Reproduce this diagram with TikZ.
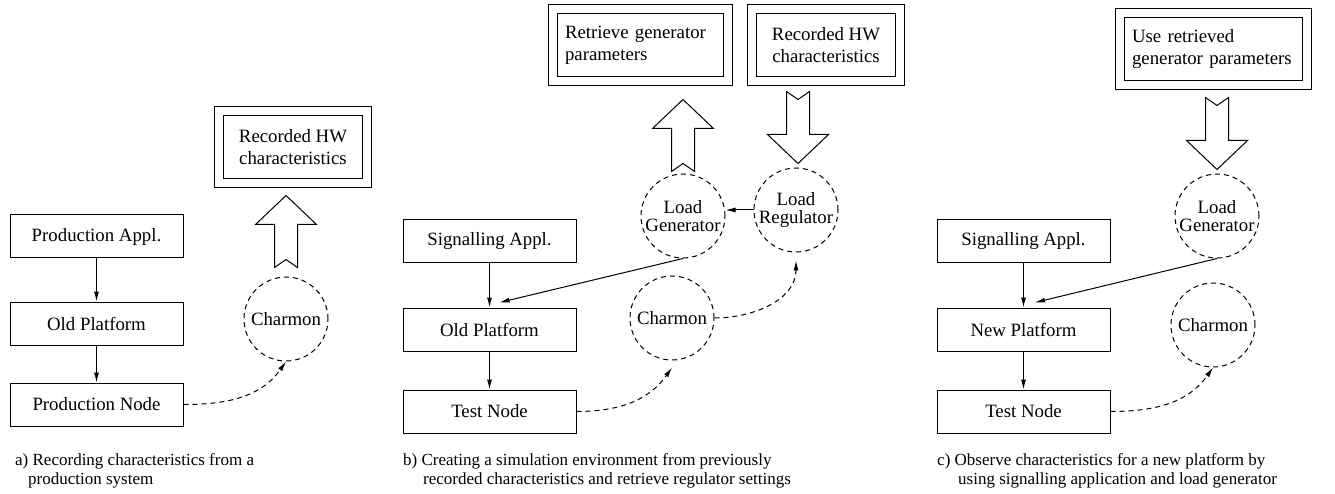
\documentclass[tikz,border=0pt]{standalone}
\usepackage{fontspec}
\setmainfont{Liberation Serif}
\usetikzlibrary{positioning,arrows.meta}

\begin{document}
\begin{tikzpicture}[
    x=1pt, y=1pt,
    font=\fontsize{18.8}{22}\selectfont,
    node distance=43pt,
    block/.style={rectangle, draw, line width=1pt, minimum width=173pt, minimum height=43pt, inner sep=0pt},
    proc/.style={circle, draw, line width=1pt, dash pattern=on 5pt off 4pt, minimum size=84pt, inner sep=0pt, align=center, font=\fontsize{18.8}{18}\selectfont},
    store/.style={rectangle, draw, double, double distance=8pt, line width=1pt, minimum height=72pt, inner sep=0pt},
    caption/.style={anchor=north west, align=left, inner sep=0pt, font=\fontsize{17}{19}\selectfont},
    arrow/.style={-{Latex[length=10pt,width=5pt]}, line width=1pt},
    trace/.style={arrow, dash pattern=on 5pt off 4pt},
    fatarrow/.pic={
        \draw[line width=1pt, fill=white] (-11.5,0) -- (0,8) -- (11.5,0) -- (11.5,43) -- (30.5,43)
            -- (0,72) -- (-30.5,43) -- (-11.5,43) -- cycle;
    }
]
\useasboundingbox (0,0) rectangle (1335,-494);

% a) recording on the production system
\node[block] (applA) at (96.5,-236.5) {Production Appl.};
\node[block, below=of applA] (platA) {Old Platform};
\node[block, below=37pt of platA] (nodeA) {Production Node};
\node[proc] (charA) at (286,-319) {Charmon};
\node[store, minimum width=148pt, align=center] (recA) at (293,-147) {Recorded HW\\characteristics};

\draw[arrow] (applA) -- (platA);
\draw[arrow] (platA) -- (nodeA);
\draw[trace] (nodeA.east) to[out=0,in=-125] (charA.south);
\pic at ([yshift=9pt]charA.north) {fatarrow};

% b) simulation with old platform
\node[block] (applB) at (489.5,-241.5) {Signalling Appl.};
\node[block, below=44pt of applB] (platB) {Old Platform};
\node[block, below=38pt of platB] (nodeB) {Test Node};
\node[proc] (genB) at (683,-216) {Load\\Generator};
\node[proc] (regB) at (796,-210) {Load\\Regulator};
\node[proc] (charB) at (672,-318) {Charmon};
\node[store, minimum width=175pt, text width=150pt, align=left] (parB) at (640,-45) {Retrieve generator\\parameters};
\node[store, minimum width=148pt, align=center] (recB) at (826,-45) {Recorded HW\\characteristics};

\draw[arrow] (applB) -- (platB);
\draw[arrow] (platB) -- (nodeB);
\draw[arrow] (genB.south) -- ([xshift=10pt,yshift=5pt]platB.north);
\draw[arrow] (regB.west) -- (genB.east |- regB.west);
\draw[trace] (nodeB.east) to[out=0,in=-125] ([yshift=-7pt]charB.south);
\draw[trace] (charB.east) to[out=0,in=-90] ([yshift=-8pt]regB.south);
\pic at ([yshift=2pt]genB.north) {fatarrow};
\pic[rotate=180] at ([xshift=2pt,yshift=76pt]regB.north) {fatarrow};

% c) observe the new platform
\node[block] (applC) at (1023.5,-241.5) {Signalling Appl.};
\node[block, below=44pt of applC] (platC) {New Platform};
\node[block, below=38pt of platC] (nodeC) {Test Node};
\node[proc] (genC) at (1217,-216) {Load\\Generator};
\node[proc] (charC) at (1213,-325) {Charmon};
\node[store, minimum width=187pt, text width=162pt, align=left] (parC) at (1213,-49.5) {Use retrieved\\generator parameters};

\draw[arrow] (applC) -- (platC);
\draw[arrow] (platC) -- (nodeC);
\draw[arrow] (genC.south) -- ([xshift=11.5pt,yshift=5pt]platC.north);
\draw[trace] (nodeC.east) to[out=0,in=-125] (charC.south);
\pic[rotate=180] at ([yshift=76pt]genC.north) {fatarrow};

% captions
\node[caption] (capA) at (15,-453) {a) Recording characteristics from a\\\hspace*{13pt}production system};
\node[caption] (capB) at (403,-453) {b) Creating a simulation environment from previously\\\hspace*{20pt}recorded characteristics and retrieve regulator settings};
\node[caption] (capC) at (937,-453) {c) Observe characteristics for a new platform by\\\hspace*{21pt}using signalling application and load generator};

\end{tikzpicture}
\end{document}
